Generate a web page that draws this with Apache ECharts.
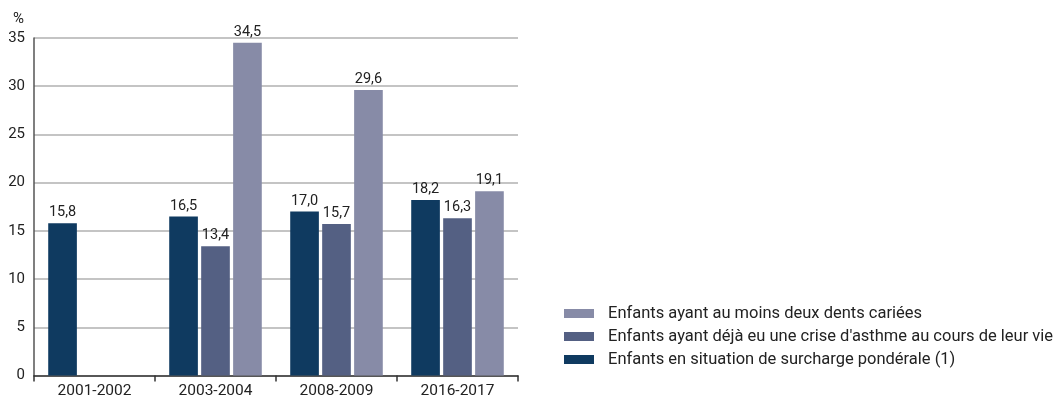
<!DOCTYPE html>
<html>
<head>
<meta charset="utf-8">
<script src="https://cdn.jsdelivr.net/npm/echarts@6/dist/echarts.min.js"></script>
<style>
  html, body { margin: 0; padding: 0; background: #fff; }
  #chart { width: 1058px; height: 403px; }
</style>
</head>
<body>
<div id="chart"></div>
<script>
const periods = ['2001-2002', '2003-2004', '2008-2009', '2016-2017']
const surpoids = [15.8, 16.5, 17.0, 18.2]
const asthme = [null, 13.4, 15.7, 16.3]
const caries = [null, 34.5, 29.6, 19.1]
const yTicks = [0, 5, 10, 15, 20, 25, 30, 35]

const names = [
  'Enfants en situation de surcharge pondérale (1)',
  "Enfants ayant déjà eu une crise d'asthme au cours de leur vie",
  'Enfants ayant au moins deux dents cariées'
]
const colorSets = ['#0f3a60', '#546083', '#878ba7']
const font = 'Roboto'

const chart = echarts.init(document.getElementById('chart'))

function bar(name, data, color) {
  return {
    name: name,
    type: 'bar',
    data: data,
    barGap: '11.5%',
    barCategoryGap: '23.5%',
    itemStyle: { color: color },
    label: {
      show: true,
      position: 'top',
      distance: 3,
      color: '#222',
      fontFamily: font,
      fontSize: 14.5,
      formatter: p => p.value.toFixed(1).replace('.', ',')
    }
  }
}

chart.setOption({
  animation: false,
  title: {
    text: '%',
    left: 13,
    top: 12,
    padding: 0,
    textStyle: { fontFamily: font, fontSize: 15, fontWeight: 'normal', color: '#222' }
  },
  grid: { left: 34, top: 38, width: 484, bottom: 27.5, containLabel: false },
  legend: {
    orient: 'vertical',
    left: 564,
    top: 305,
    padding: 0,
    itemWidth: 30,
    itemHeight: 9,
    itemGap: 6,
    icon: 'rect',
    data: [names[2], names[1], names[0]],
    textStyle: { fontFamily: font, fontSize: 16.5, color: '#222', lineHeight: 16, padding: [0, 0, 0, 9] }
  },
  xAxis: {
    type: 'category',
    data: periods,
    axisLine: { lineStyle: { color: '#333', width: 1.5 } },
    axisTick: { show: true, length: 6, lineStyle: { color: '#333', width: 1.5 } },
    axisLabel: { fontFamily: font, fontSize: 15.5, color: '#222', margin: 8 }
  },
  yAxis: {
    type: 'value',
    min: yTicks[0],
    max: yTicks[yTicks.length - 1],
    interval: 5,
    axisLine: { show: true, lineStyle: { color: '#555', width: 1.5 } },
    axisTick: { show: false },
    axisLabel: { fontFamily: font, fontSize: 15, color: '#222', margin: 9 },
    splitLine: { lineStyle: { color: '#b0b0b0', width: 1.5 } }
  },
  series: [
    bar(names[0], surpoids, colorSets[0]),
    bar(names[1], asthme, colorSets[1]),
    bar(names[2], caries, colorSets[2])
  ]
})
</script>
</body>
</html>
